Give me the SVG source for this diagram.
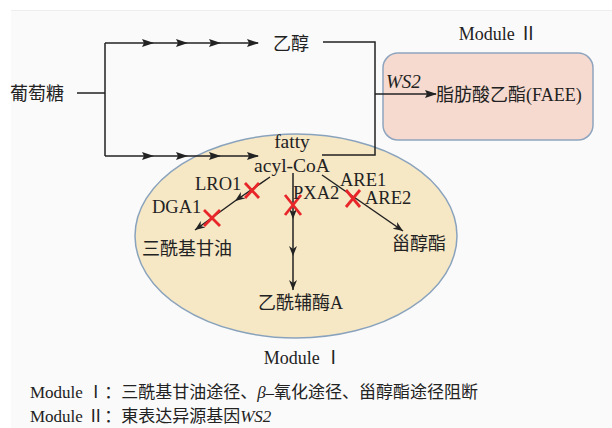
<svg xmlns="http://www.w3.org/2000/svg" width="612" height="428" viewBox="0 0 612 428">
<defs>
<style>
.t{font-family:"Liberation Serif","Noto Sans CJK SC",serif;fill:#222;}
.cn{font-family:"Liberation Serif","Noto Sans CJK SC",serif;fill:#222;font-size:18px;}
.ln{fill:none;stroke:#222;stroke-width:1.5;}
.ar{marker-mid:url(#ah);marker-end:url(#ah);}
.ar2{marker-mid:url(#ab);marker-end:url(#ab);}
.x{stroke:#e8262a;stroke-width:2.8;fill:none;}
</style>
<marker id="ah" viewBox="0 0 12 8" refX="11" refY="4" markerWidth="12" markerHeight="8" markerUnits="userSpaceOnUse" orient="auto">
<path d="M0,0 L12,4 L0,8 L2,4 z" fill="#222"/>
</marker>
<marker id="ab" viewBox="0 0 10 8" refX="10" refY="4" markerWidth="10" markerHeight="8" markerUnits="userSpaceOnUse" orient="auto">
<path d="M0,0 L10,4 L0,8 L3,4 z" fill="#222"/>
</marker>
</defs>
<rect x="11" y="10" width="601" height="418" fill="#fafafa"/>
<line x1="11" y1="10.5" x2="612" y2="10.5" stroke="#eee" stroke-width="1"/>

<g id="module1">
<ellipse cx="296" cy="236" rx="161" ry="102" fill="#f6e7c5" stroke="#8aa3bd" stroke-width="1.5"/>
<text class="t" x="303" y="364" font-size="18" text-anchor="middle">Module Ⅰ</text>
</g>
<g id="module2">
<rect x="383" y="53" width="210" height="87" rx="15" fill="#f6dacf" stroke="#8fa5bf" stroke-width="1.5"/>
<text class="t" x="498" y="40" font-size="18" text-anchor="middle">Module Ⅱ</text>
</g>

<g id="connectors">
<path class="ln" d="M77,93 H105 M105,43 V156"/>
<path class="ln ar" d="M105,43 L153,43 L187,43 L220,43 L258,43"/>
<path class="ln ar" d="M105,156 L153,156 L187,156 L220,156 L258,156"/>
<path class="ln" d="M323,42 H375 V155 H322"/>
<path class="ln ar" d="M375,94 L436,94"/>
<path class="ln ar2" d="M293,173 L293,219 L293,256 L293,290"/>
<path class="ln ar2" d="M270,177 L235,201 L195,230"/>
<path class="ln ar2" d="M322,175 L403,231"/>
</g>

<g id="blocks">
<path class="x" d="M245,183 L259,198 M259,183 L245,198"/>
<path class="x" d="M204,210 L220,226 M220,210 L204,226"/>
<path class="x" d="M285,195 L301,215 M301,195 L285,215"/>
<path class="x" d="M346,190 L360,207 M360,190 L346,207"/>
</g>

<g id="glucose"><text class="cn" x="10" y="100" font-size="19">葡萄糖</text></g>
<g id="ethanol"><text class="cn" x="273" y="50" font-size="19">乙醇</text></g>
<g id="ws2"><text class="t" x="386" y="88" font-size="19" font-style="italic">WS2</text></g>
<g id="faee"><text class="cn" x="436" y="101">脂肪酸乙酯(FAEE)</text></g>
<g id="acylcoa">
<text class="t" x="292" y="148" font-size="19.5" text-anchor="middle">fatty</text>
<text class="t" x="292" y="172" font-size="19.5" text-anchor="middle">acyl-CoA</text>
</g>
<g id="lro1"><text class="t" x="195" y="190" font-size="18.5">LRO1</text></g>
<g id="dga1"><text class="t" x="152" y="213" font-size="18.5">DGA1</text></g>
<g id="pxa2"><text class="t" x="293" y="199" font-size="18.5">PXA2</text></g>
<g id="are1"><text class="t" x="340" y="186" font-size="18.5">ARE1</text></g>
<g id="are2"><text class="t" x="365" y="204" font-size="18.5">ARE2</text></g>
<g id="tag"><text class="cn" x="142" y="255" font-size="19">三酰基甘油</text></g>
<g id="se"><text class="cn" x="392" y="250" font-size="19">甾醇酯</text></g>
<g id="acetylcoa"><text class="cn" x="258" y="309" font-size="18">乙酰辅酶A</text></g>

<g id="legend">
<text class="t" x="30" y="398" font-size="17">Module Ⅰ：三酰基甘油途径、<tspan font-style="italic">β</tspan>–氧化途径、甾醇酯途径阻断</text>
<text class="t" x="30" y="422" font-size="17">Module Ⅱ：東表达异源基因<tspan font-style="italic">WS2</tspan></text>
</g>
</svg>
